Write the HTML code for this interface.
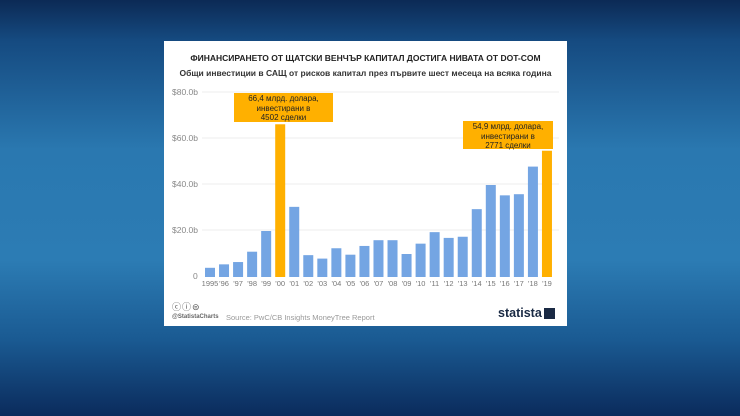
<!DOCTYPE html>
<html><head><meta charset="utf-8"><style>
body{margin:0;width:740px;height:416px;overflow:hidden;font-family:"Liberation Sans",sans-serif;
background:linear-gradient(180deg,#0c2a55 0px,#154a80 40px,#2a78b0 150px,#2c7cb4 260px,#1a5a92 340px,#0b2b5c 416px);}
.card{position:absolute;left:164px;top:41px;width:403px;height:285px;background:#fff;}
.abs{position:absolute;}
.t1{left:0;width:403px;top:12px;text-align:center;font-size:8.5px;font-weight:bold;color:#222;}
.t2{left:0;width:403px;top:27px;text-align:center;font-size:8.5px;font-weight:bold;color:#333;}
.yl{font-size:8.5px;color:#888;}
.xl{font-size:7.5px;color:#777;width:20px;text-align:center;top:238px;}
.lab{background:#ffb000;font-size:8px;text-align:center;color:#222;line-height:9.5px;padding-top:1px}
</style></head><body>
<div class="card">
<div class="abs t1">ФИНАНСИРАНЕТО ОТ ЩАТСКИ ВЕНЧЪР КАПИТАЛ ДОСТИГА НИВАТА ОТ DOT-COM</div>
<div class="abs t2">Общи инвестиции в САЩ от рисков капитал през първите шест месеца на всяка година</div>
<svg class="abs" style="left:0;top:0" width="403" height="285">
<g stroke="#e6e6e6" stroke-width="0.8">
<line x1="38" x2="395" y1="51" y2="51"/><line x1="38" x2="395" y1="97" y2="97"/>
<line x1="38" x2="395" y1="143" y2="143"/><line x1="38" x2="395" y1="189" y2="189"/>
</g>
<g id="bars"></g>
</svg>
<div class="abs yl" style="left:8px;top:46px">$80.0b</div>
<div class="abs yl" style="left:8px;top:92px">$60.0b</div>
<div class="abs yl" style="left:8px;top:138px">$40.0b</div>
<div class="abs yl" style="left:8px;top:184px">$20.0b</div>
<div class="abs yl" style="left:29px;top:230px">0</div>
<div id="xl"></div>
<div class="abs lab" style="left:70px;top:52px;width:99px;height:28px">66,4 млрд. долара,<br>инвестирани в<br>4502 сделки</div>
<div class="abs lab" style="left:299px;top:80px;width:90px;height:27px">54,9 млрд. долара,<br>инвестирани в<br>2771 сделки</div>
<div class="abs" style="left:8px;top:259px;font-size:9px;color:#555;letter-spacing:1px">ⓒⓘ⊜</div>
<div class="abs" style="left:8px;top:273px;font-size:6px;color:#666;font-weight:bold">@StatistaCharts</div>
<div class="abs" style="left:62px;top:272px;font-size:7.5px;color:#999">Source: PwC/CB Insights MoneyTree Report</div>
<div class="abs" style="left:334px;top:265px;font-size:12.5px;font-weight:bold;color:#1a2a44">statista</div>
<div class="abs" style="left:380px;top:267px;width:11px;height:11px;background:#1a2a44"></div>
</div>
<script>
var v=[4,5.5,6.5,11,20,66.4,30.5,9.5,8,12.5,9.7,13.5,16,16,10,14.5,19.5,17,17.5,29.5,40,35.5,36,48,54.9];
var lab=['1995',"'96","'97","'98","'99","'00","'01","'02","'03","'04","'05","'06","'07","'08","'09","'10","'11","'12","'13","'14","'15","'16","'17","'18","'19"];
var g=document.getElementById('bars'),s='',h='';
for(var i=0;i<25;i++){var cx=46+i*14.04,ht=v[i]*2.3,c=(i==5||i==24)?'#ffb000':'#74a5e3';
s+='<rect x="'+(cx-5)+'" y="'+(236-ht)+'" width="10" height="'+ht+'" fill="'+c+'"/>';
h+='<div class="abs xl" style="left:'+(cx-10)+'px">'+lab[i]+'</div>';}
g.innerHTML=s;document.getElementById('xl').innerHTML=h;
</script>
</body></html>
